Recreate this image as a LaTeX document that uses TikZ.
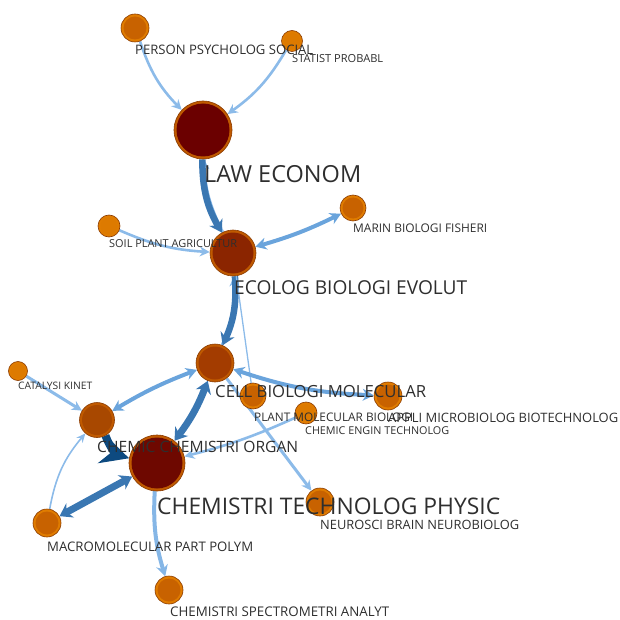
\documentclass[tikz,border=0pt]{standalone}
\usepackage{fontspec}
\usepackage{graphicx}
\setmainfont{Open Sans}
\usetikzlibrary{arrows.meta,backgrounds}
\definecolor{edgeL}{HTML}{8CBBE9}
\definecolor{edgeM}{HTML}{6AA4DC}
\definecolor{edgeD}{HTML}{3A77B2}
\definecolor{edgeN}{HTML}{0D4A80}
\definecolor{nodebrd}{HTML}{8A3A00}
\definecolor{ringA}{HTML}{C05A00}
\definecolor{ringB}{HTML}{E07C00}
\definecolor{coreLaw}{HTML}{6B0000}
\definecolor{coreTech}{HTML}{6E0800}
\definecolor{coreEco}{HTML}{8B2500}
\definecolor{coreCell}{HTML}{A33C00}
\definecolor{coreOrg}{HTML}{A84800}
\definecolor{coreMid}{HTML}{C86200}
\definecolor{coreSm}{HTML}{DD7A00}
\definecolor{labelc}{HTML}{2E2E2E}
\newcommand{\gnode}[6]{%
  \node[circle, inner sep=0pt, minimum size=#4*2pt, fill=#5, draw=nodebrd, line width=0.6pt] (#1) at (#2,#3) {};
  \fill[#6] (#1.center) circle[radius=#4pt-2.5pt];
}
\newcommand{\glabel}[5]{%
  \node[anchor=west, inner sep=0pt, text=labelc] (#1) at (#2,#3) {\resizebox{#4pt}{!}{#5}};
}
\tikzset{
  el/.style={draw=edgeL, line width=2.6pt, -{Stealth[length=10pt,width=10pt]}},
  elt/.style={draw=edgeL, line width=1.3pt},
  em/.style={draw=edgeM, line width=4pt, -{Stealth[length=11pt,width=12pt]}},
  emb/.style={draw=edgeM, line width=4pt, {Stealth[length=11pt,width=12pt]}-{Stealth[length=11pt,width=12pt]}},
  ed/.style={draw=edgeD, line width=6.5pt, -{Stealth[length=12pt,width=15pt]}},
  edb/.style={draw=edgeD, line width=7pt, {Stealth[length=12pt,width=16pt]}-{Stealth[length=12pt,width=16pt]}},
  en/.style={draw=edgeN, line width=8pt, -{Stealth[length=28pt,width=28pt]}},
}
\begin{document}
\begin{tikzpicture}[x=1pt,y=-1pt]
\useasboundingbox (0,0) rectangle (619,620);
% nodes
\gnode{person}{135}{28}{14}{ringB}{coreMid}
\gnode{statist}{292}{41}{10.5}{ringB}{coreSm}
\gnode{law}{203}{130}{29}{ringA}{coreLaw}
\gnode{soil}{109}{226}{11}{ringB}{coreSm}
\gnode{marin}{353}{208}{13}{ringB}{coreMid}
\gnode{ecolog}{233}{253}{23}{ringA}{coreEco}
\gnode{catalysi}{18}{371}{9.5}{ringB}{coreSm}
\gnode{cell}{215}{363}{19}{ringA}{coreCell}
\gnode{plant}{253}{396}{13}{ringB}{coreMid}
\gnode{engin}{306}{413}{11}{ringB}{coreSm}
\gnode{appli}{388}{396}{14}{ringB}{coreMid}
\gnode{organ}{97}{420}{17.5}{ringA}{coreOrg}
\gnode{tech}{157}{463}{28}{ringA}{coreTech}
\gnode{neuro}{320}{502}{14}{ringB}{coreMid}
\gnode{macro}{47}{523}{14}{ringB}{coreMid}
\gnode{spectro}{169}{590}{14}{ringB}{coreMid}
% edges
\begin{scope}[on background layer]
\draw[el] (person) to[bend right=13] (law);
\draw[el] (statist) to[bend left=12] (law);
\draw[el] (ecolog) to[bend left=12] (law);
\draw[ed] (law) to[bend right=15] (ecolog);
\draw[el] (soil) to[bend right=10] (ecolog);
\draw[emb] (marin) to[bend left=5] (ecolog);
\draw[el] (cell) to[bend right=12] (ecolog);
\draw[ed] (ecolog) to[bend left=14] (cell);
\draw[elt] (ecolog) -- (plant);
\draw[emb] (cell) to[bend right=5] (organ);
\draw[edb] (cell) to[bend left=8] (tech);
\draw[emb] (appli) to[bend left=8] (cell);
\draw[el, line width=3pt] (cell) -- (neuro);
\draw[el] (engin) to[bend left=5] (tech);
\draw[el, line width=3pt] (catalysi) -- (organ);
\draw[en] (organ) to[bend right=26] (tech);
\draw[edb] (macro) -- (tech);
\draw[elt, line width=1.6pt, -{Stealth[length=9pt,width=8pt]}] (macro) to[bend left=15] (organ);
\draw[em, draw=edgeL!80!edgeM] (tech) to[bend right=10] (spectro);
\end{scope}
% labels
\glabel{lperson}{135}{50}{178}{PERSON PSYCHOLOG SOCIAL}
\glabel{lstatist}{292}{59}{91}{STATIST PROBABL}
\glabel{llaw}{204}{174}{157}{LAW ECONOM}
\glabel{lsoil}{109}{244}{128}{SOIL PLANT AGRICULTUR}
\glabel{lmarin}{353}{228}{134}{MARIN BIOLOGI FISHERI}
\glabel{lecolog}{234}{288}{233}{ECOLOG BIOLOGI EVOLUT}
\glabel{lcatalysi}{18}{386}{74}{CATALYSI KINET}
\glabel{lcell}{215}{392}{211}{CELL BIOLOGI MOLECULAR}
\glabel{lplant}{254}{417}{159}{PLANT MOLECULAR BIOLOGI}
\glabel{lengin}{305}{431}{144}{CHEMIC ENGIN TECHNOLOG}
\glabel{lappli}{388}{418}{230}{APPLI MICROBIOLOG BIOTECHNOLOG}
\glabel{lorgan}{97}{447}{201}{CHEMIC CHEMISTRI ORGAN}
\glabel{ltech}{157}{506}{343}{CHEMISTRI TECHNOLOG PHYSIC}
\glabel{lneuro}{320}{525}{199}{NEUROSCI BRAIN NEUROBIOLOG}
\glabel{lmacro}{47}{547}{206}{MACROMOLECULAR PART POLYM}
\glabel{lspectro}{170}{612}{219}{CHEMISTRI SPECTROMETRI ANALYT}
\end{tikzpicture}
\end{document}
